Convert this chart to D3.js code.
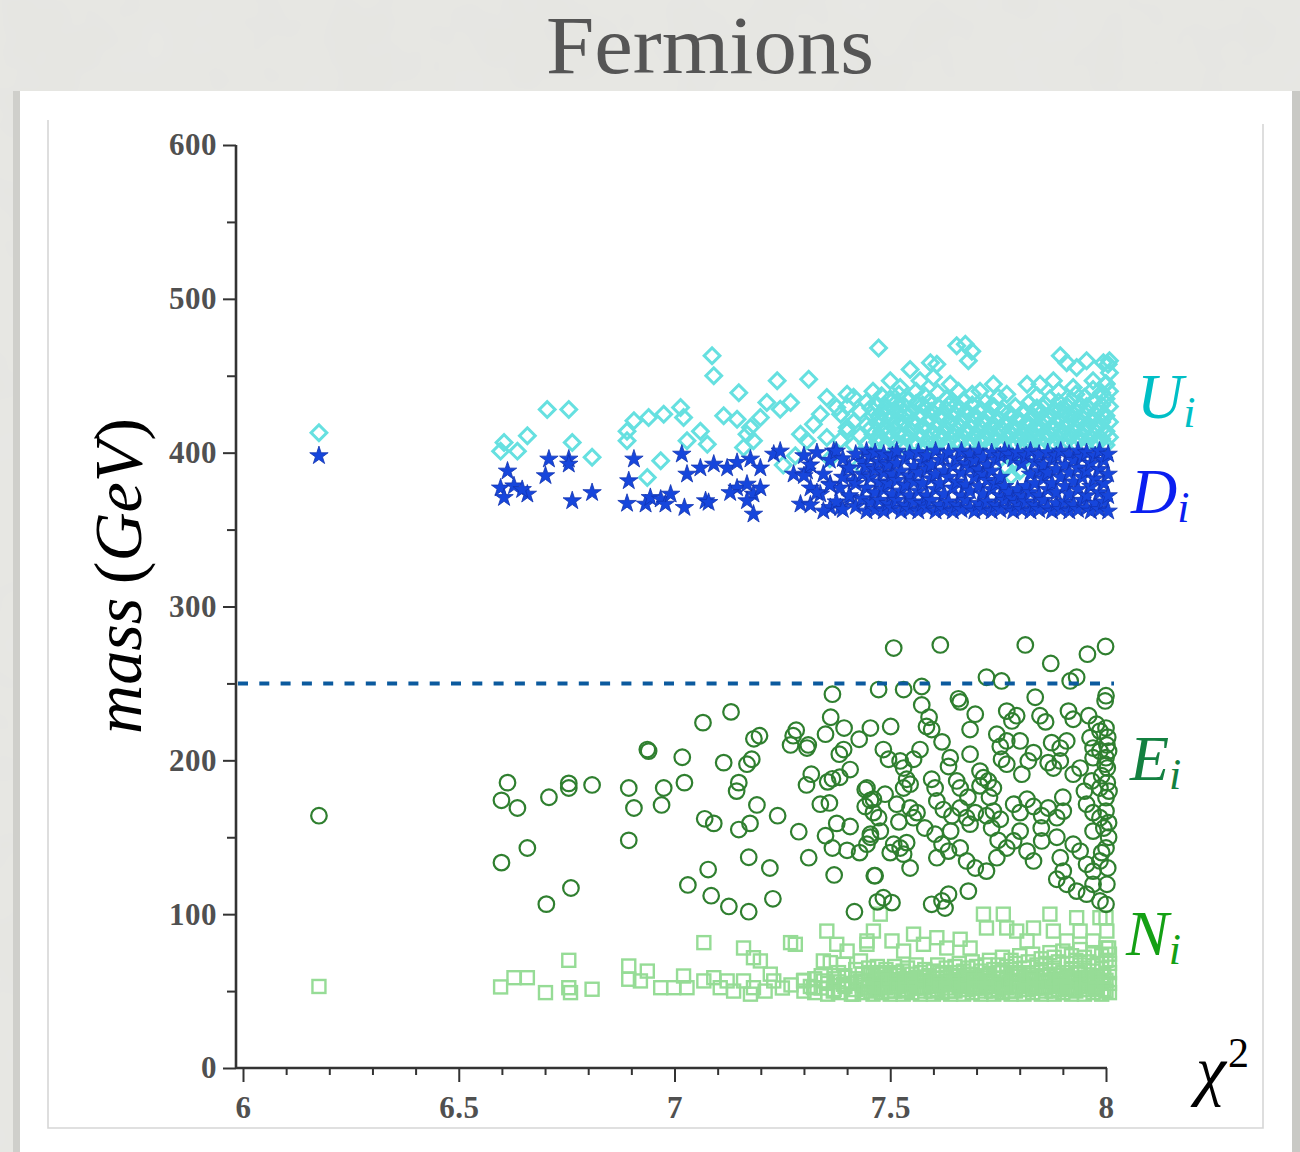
<!DOCTYPE html>
<html>
<head>
<meta charset="utf-8">
<script src="https://cdn.jsdelivr.net/npm/d3@7"></script>
<style>
  html, body { margin: 0; padding: 0; background: #e2e2de; }
  svg { display: block; }
</style>
</head>
<body>
<svg id="chart" width="1300" height="1152"></svg>
<script>
// ---------- axis definitions ----------
const xMajor = [6, 6.5, 7, 7.5, 8];
const yMajor = [0, 100, 200, 300, 400, 500, 600];
const thresholdMass = 250;

// ---------- U_i (diamonds): isolated points [chi2, mass] ----------
const uPoints = [
  [6.176,413],[6.605,406.6],[6.597,401],[6.659,411],[6.705,428],[6.755,428],[6.763,406.6],
  [6.809,397],[6.636,401],[6.89,414],[6.906,420.7],[6.89,407.7],[6.94,422.8],[6.975,425],
  [7.014,429.3],[7.021,422.8],[6.968,394.7],[6.937,383.8],[7.029,407.7],[7.06,414],[7.076,405.5],
  [7.087,463],[7.091,450],[7.149,439],[7.114,424],[7.145,421.8],[7.176,416.3],[7.199,422.8],
  [7.214,432.6],[7.245,428.3],[7.269,432.6],[7.238,446.7],[7.311,447.8],[7.168,412],[7.183,407.7],
  [7.16,403.3],[7.292,412],[7.322,418.5],[7.353,435.8],[7.376,429.3],[7.4,438],[7.338,425],
  [7.307,407.7],[7.353,409.8],[7.4,416.3],[7.473,468],[7.654,469.5],[7.674,470.5],[7.689,466],
  [7.681,459.7],[7.546,454],[7.593,458.5],[7.608,457.5],[7.894,463],[7.909,458.5],[7.932,455.3],
  [7.955,459.7],[7.994,458.5],[8.005,457.5],[8.008,459.7],[7.5,446.7],[7.523,442.4],[7.569,446.7],
  [7.6,449],[7.639,444.5],[7.658,440],[7.708,440],[7.739,444.5],[7.77,438],[7.817,444.5],
  [7.847,444.5],[7.878,446.7],[7.924,442.4],[7.97,446.7],[8.0,444.5],[7.252,392],[7.28,398],
  [7.36,396],[7.43,392]
];
// U_i dense band: [chi2, mass, mass, ...]
const uBand = [
  [7.385,408,425],[7.40,414,430],[7.415,405,420,436],[7.43,411,427],[7.445,406,418,433],
  [7.46,412,424,440],[7.47,407,419,431],[7.48,414,426,437],[7.49,405,417,430],[7.50,410,422,435],
  [7.51,406,416,428],[7.52,412,425,438],[7.53,405,419,431],[7.54,409,423,434],[7.55,414,427],
  [7.56,406,418,432,440],[7.57,411,424],[7.58,405,416,429,437],[7.59,409,421,433],[7.60,413,426],
  [7.61,406,418,430,439],[7.62,410,422],[7.63,405,415,428,435],[7.64,409,420,432],[7.65,413,425],
  [7.66,406,417,429],[7.67,410,421,434],[7.68,405,414,426],[7.69,408,419,431,438],[7.70,412,423],
  [7.71,406,416,428],[7.72,409,420,433],[7.73,405,413,425],[7.74,408,418,430],[7.75,411,422,436],
  [7.76,405,415,427],[7.77,390,409,419],[7.78,385,412,424],[7.79,393,406,416,430],[7.80,388,410,421],
  [7.81,395,405,414,427],[7.82,409,419,432],[7.83,406,413,424],[7.84,410,418,429,437],[7.85,405,415,426],
  [7.86,408,420,431],[7.87,412,423,435],[7.88,406,416,428],[7.89,409,421,433,440],[7.90,405,413,425],
  [7.91,408,418,430],[7.92,411,422,434],[7.93,406,416,427,438],[7.94,409,420,431],[7.95,405,414,425,436],
  [7.96,408,418,429],[7.97,412,422,433,441],[7.98,406,416,427],[7.99,409,420,431,439],
  [8.0,405,414,424,435,445],[8.008,410,420,430,440,452],
  [7.455,416,429],[7.475,410,423],[7.495,413,426],[7.515,420,433],[7.535,412,426],[7.555,407,420],
  [7.575,417,431],[7.595,405,427],[7.615,412,424],[7.635,420,431],[7.655,408,419],[7.675,414,427],
  [7.695,411,424],[7.715,410,421],[7.735,417,430],[7.755,406,416],[7.775,414,426],[7.795,410,422],
  [7.815,408,419],[7.835,416,428],[7.855,410,421],[7.875,406,417],[7.895,415,428],[7.915,413,425],
  [7.935,410,422],[7.955,418,430],[7.975,407,417],[7.995,413,425]
];

// ---------- D_i (stars) ----------
const dPoints = [
  [6.176,398],[6.613,388],[6.597,377],[6.628,378.4],[6.605,370.8],[6.659,373],[6.647,376],
  [6.709,395.8],[6.755,395.8],[6.755,392.5],[6.701,385],[6.763,368.7],[6.809,374],[6.906,395.8],
  [6.894,381.7],[6.89,367],[6.933,366.5],[6.944,370.8],[6.968,369.8],[6.979,366.5],[6.991,373],
  [7.017,399],[7.029,386],[7.023,364.3],[7.072,368.7],[7.079,367.6],[7.06,390],[7.091,392.5],
  [7.122,390],[7.145,393.6],[7.176,395.8],[7.199,390],[7.23,399],[7.245,401],[7.145,377],
  [7.168,379.5],[7.183,373],[7.199,377],[7.168,368.7],[7.183,360],[7.129,374],[7.276,386],
  [7.307,388],[7.292,366.5],[7.315,377],[7.338,373],[7.361,379.5],[7.384,377],[7.369,401],
  [7.4,390],[7.415,381.7],[7.361,364.3],[7.384,364.3],[7.407,370.8]
];
const dBand = [
  [7.30,385,398],[7.315,366,392],[7.33,374,400],[7.345,362,386],[7.36,379,395],[7.375,368,401],
  [7.39,363,384,396],[7.405,372,390],[7.42,365,380,399],[7.435,370,386,394],[7.445,362,377,391,401],
  [7.455,368,384,397],[7.465,363,374,389,400],[7.475,369,381,394],[7.485,362,376,387,399],
  [7.495,367,380,392],[7.505,364,373,386,398],[7.515,369,382,393,401],[7.525,362,375,388],
  [7.535,366,379,396],[7.545,363,372,385,399],[7.555,368,381,391],[7.565,362,375,387,400],
  [7.575,367,380,394],[7.585,364,372,389,398],[7.595,369,383,392],[7.605,362,376,386,401],
  [7.615,366,380,395],[7.625,363,373,388,397],[7.635,368,384,400],[7.645,362,377,391],
  [7.655,366,381,396],[7.665,363,372,387,401],[7.675,369,379,393],[7.685,364,375,390,399],
  [7.695,362,384,395],[7.705,367,378,389,401],[7.715,363,373,386,397],[7.725,368,382,392],
  [7.735,362,376,388,400],[7.745,366,380,395],[7.755,363,372,384,398],[7.765,369,378,401],
  [7.775,364,374,399],[7.785,362,370,396],[7.795,367,376,400],[7.805,363,372,393],[7.815,368,378,398],
  [7.825,362,374,386,401],[7.835,366,380,394],[7.845,363,372,388,399],[7.855,369,383,392],
  [7.865,364,376,387,400],[7.875,362,380,395],[7.885,367,374,389,398],[7.895,363,384,401],
  [7.905,368,378,392],[7.915,362,373,387,399],[7.925,366,381,395],[7.935,363,376,390,401],
  [7.945,369,384,397],[7.955,364,372,388,400],[7.965,362,378,393],[7.975,367,383,398],
  [7.985,363,374,389,401],[7.995,368,380,395],[8.005,362,372,386,399]
];

// ---------- E_i (circles) ----------
const ePoints = [
  [6.176,164],[6.613,185.5],[6.599,174],[6.636,169],[6.709,176],[6.755,182],[6.755,185],[6.809,184],
  [6.894,182],[6.906,169],[6.894,148],[6.937,207],[6.94,206],[7.018,202],[6.975,182],[6.97,171],
  [7.023,185.5],[7.066,224.5],[7.131,231.5],[7.114,198.5],[7.184,214],[7.197,216],[7.168,197.5],
  [7.179,200.7],[7.149,185.5],[7.144,180],[7.191,171],[7.239,164],[7.07,162],[7.091,159],[7.149,155],
  [7.175,159],[6.659,143],[6.599,133.5],[6.76,117],[6.703,106.5],[7.172,137],[7.221,130],[7.078,129],
  [7.031,119],[7.085,112],[7.126,105],[7.172,101.6],[7.228,110],[7.288,153.6],[7.311,136.7],
  [7.37,125.5],[7.417,101.6],[7.282,219.6],[7.269,210],[7.307,208],[7.31,210],[7.366,243],[7.362,228],
  [7.35,217],[7.393,221],[7.428,213.7],[7.392,207],[7.382,204],[7.407,194],[7.317,191],[7.306,184],
  [7.366,188],[7.355,186],[7.383,189],[7.338,171.5],[7.359,172.3],[7.376,159],[7.407,157],[7.35,151],
  [7.366,143],[7.4,141.5],[7.429,140],[7.442,181],[7.454,174],[7.454,150],[7.463,125],[7.47,108],
  [7.508,273],[7.616,275],[7.813,275],[7.872,263],[7.957,269],[7.999,274],[7.473,246],[7.531,246],
  [7.573,248],[7.573,236],[7.658,240],[7.662,238],[7.723,254],[7.758,251.6],[7.836,241],[7.917,251.6],
  [7.932,254],[8.0,242],[7.998,238.6],[7.454,221],[7.501,222],[7.584,222],[7.596,220],[7.685,220],
  [7.697,230],[7.77,232],[7.793,229],[7.782,225.6],[7.847,229],[7.913,232],[7.924,226.7],[7.978,223.5],
  [8.0,221],[8.004,215],[7.747,217],[7.77,212.6],[7.755,209],[7.801,212.6],[7.874,211.5],[7.894,208],
  [7.909,212.6],[7.963,214.7],[7.986,219],[8.002,210],[7.97,208],[7.484,207],[7.496,200.7],[7.569,207],
  [7.554,200.7],[7.523,199.6],[7.531,195],[7.639,201.7],[7.635,196],[7.685,204],[7.446,182],
  [7.461,174.7],[7.488,178],[7.538,187.7],[7.546,184.5],[7.531,182],[7.596,187.7],[7.604,182],
  [7.654,186.6],[7.662,182],[7.716,188.7],[7.727,186.6],[7.739,182],[7.708,183.4],[7.708,193],
  [7.805,191],[7.77,197.5],[7.758,200.7],[7.832,205],[7.82,199.6],[7.866,198.5],[7.878,195],
  [7.894,199.6],[7.924,191],[7.94,195],[7.986,206],[8.0,201.7],[8.006,206],[7.97,201.7],[7.998,197.5],
  [7.967,186.6],[7.986,182],[8.003,185.5],[8.007,180],[8.0,175.7],[7.442,170],[7.461,166],[7.473,162.7],
  [7.515,171.5],[7.546,169],[7.562,166],[7.554,162.7],[7.608,173.6],[7.623,168],[7.643,164],
  [7.662,169],[7.677,162.7],[7.697,166],[7.685,158.5],[7.723,164],[7.739,167],[7.755,161.7],
  [7.735,156],[7.786,171.5],[7.801,166],[7.817,174.7],[7.832,170],[7.851,164],[7.866,169],
  [7.886,162.7],[7.901,167],[7.955,171.5],[7.97,166],[7.986,162.7],[8.0,167],[8.006,159.5],
  [7.995,156],[7.97,154],[7.454,152],[7.446,145.5],[7.477,154],[7.508,145.5],[7.523,143],[7.538,146.5],
  [7.5,140],[7.531,139],[7.546,130],[7.465,125],[7.604,152],[7.62,145.5],[7.635,141],[7.608,136.7],
  [7.662,143],[7.677,134.6],[7.697,130],[7.723,128],[7.747,136.7],[7.77,143],[7.786,147.6],[7.801,154],
  [7.817,141],[7.832,134.6],[7.851,147.6],[7.886,150],[7.894,136.7],[7.901,128],[7.924,145.5],
  [7.94,141],[7.955,132.4],[7.97,128],[7.986,134.6],[8.0,143],[8.006,150],[8.004,130],[7.886,122.7],
  [7.909,119.4],[7.932,115],[7.955,113],[7.986,108.6],[8.0,106.4],[7.97,119.4],[8.002,119.4],
  [7.484,110.7],[7.504,107.5],[7.596,106.4],[7.62,108.6],[7.627,104],[7.635,113],[7.681,115],
  [7.275,216],[7.59,228],[7.62,212],[7.86,225],[7.96,229],[7.99,190],[8.003,195],[7.95,180],
  [7.73,176],[7.68,176],[7.9,176],[7.58,156],[7.64,154],[7.85,156],[7.99,140],[7.52,160],[7.75,148]
];

// ---------- N_i (squares) ----------
const nPoints = [
  [6.176,53],[6.597,52.7],[6.628,58.7],[6.659,58.7],[6.701,49],[6.755,70],[6.755,52.2],[6.759,49],
  [6.809,51.2],[6.894,66.3],[6.894,57.7],[6.937,63],[6.921,56.6],[6.968,52.2],[6.998,52.2],
  [7.029,52.2],[7.021,59.8],[7.068,81.5],[7.068,56.6],[7.091,58.7],[7.106,52.2],[7.122,56.6],
  [7.137,50],[7.16,56.6],[7.183,52.2],[7.176,48],[7.16,78],[7.183,71.7],[7.199,69.6],[7.23,56.6],
  [7.222,61],[7.269,81.5],[7.28,80.4],[7.299,56.6],[7.322,52.2],[7.345,56.6],[7.368,50],
  [7.392,54.4],[7.415,48],[7.431,56.6],[7.461,52.2],[7.353,89],[7.376,80.4],[7.4,76],[7.345,69.6],
  [7.361,68.5],[7.392,67.4],[7.446,82.6],[7.431,69.6],[7.446,80.4],[7.461,89],[7.477,100],
  [7.504,82.6],[7.531,76],[7.554,87],[7.577,80.4],[7.608,84.7],[7.631,78],[7.662,83.7],[7.685,78],
  [7.716,100],[7.723,91],[7.762,100],[7.77,91],[7.793,89],[7.817,82.6],[7.832,91],[7.87,100],
  [7.878,89],[7.909,82.6],[7.932,97.7],[7.94,89],[7.97,82.6],[7.986,97.7],[8.002,89],[8.006,78],
  [8.0,97.7],[7.25,52],[7.21,50],[7.27,54]
];
const nBand = [
  [7.30,50,57],[7.315,53],[7.325,49,58],[7.34,52,60],[7.355,48,55],[7.37,51,58],[7.38,49,56,62],
  [7.395,53,60],[7.41,48,55],[7.42,51,58,64],[7.435,49,54,61],[7.45,52,57,65],[7.46,48,55,60],
  [7.47,51,58,66],[7.48,49,54,62],[7.49,52,59,64],[7.50,48,55,61],[7.51,50,57,66],[7.52,53,60],
  [7.53,48,55,63],[7.54,51,58,65],[7.55,49,54,61],[7.56,52,59,67],[7.57,48,56,62],[7.58,50,57,64],
  [7.59,53,60],[7.60,48,55,63],[7.61,51,58,67],[7.62,49,54,61],[7.63,52,59,65],[7.64,48,56,62],
  [7.65,50,57,66],[7.66,53,60,68],[7.67,48,55,63],[7.68,51,58,65],[7.69,49,54,61,69],[7.70,52,59,66],
  [7.71,48,56,63],[7.72,50,57,67],[7.73,53,60,70],[7.74,48,55,64],[7.75,51,58,67],[7.76,49,54,62,72],
  [7.77,52,59,66],[7.78,48,56,64,70],[7.79,50,57,68],[7.80,53,61,73],[7.81,48,55,65],[7.82,51,58,69],
  [7.83,49,54,62,74],[7.84,52,59,67],[7.85,48,56,64,71],[7.86,50,57,68],[7.87,53,61,75],
  [7.88,48,55,65,72],[7.89,51,58,69],[7.90,49,54,62,76],[7.91,52,60,68],[7.92,48,56,64,73],
  [7.93,50,57,70],[7.94,53,61,67,77],[7.95,48,55,65,72],[7.96,51,58,69],[7.97,49,54,63,75],
  [7.98,52,60,68],[7.99,48,56,65,73],[8.0,50,57,70,78],[8.008,49,55,62,68,74],
  [7.455,50,62],[7.475,53,61],[7.495,50,57],[7.515,53,62],[7.535,50,58],[7.555,52,58],[7.575,52,59],
  [7.595,50,56],[7.615,54,62],[7.635,50,56],[7.655,54,62],[7.675,51,59],[7.695,52,57],[7.715,52,60],
  [7.735,50,56],[7.755,53,62],[7.775,50,56],[7.795,53,62],[7.815,51,59],[7.835,52,57],[7.855,52,60],
  [7.875,50,57],[7.895,53,60],[7.915,51,58],[7.935,53,62],[7.955,51,59],[7.975,52,58],[7.995,51,60]
];

// expand [chi2, m1, m2, ...] rows into [chi2, m] pairs
const expand = rows => rows.flatMap(([c, ...ms]) => ms.map(m => [c, m]));
const uAll = uPoints.concat(expand(uBand));
const dAll = dPoints.concat(expand(dBand));
const nAll = nPoints.concat(expand(nBand));

// ---------- drawing ----------
const svg = d3.select("#chart");
const W = 1300, H = 1152;

const defs = svg.append("defs");
const grain = defs.append("filter").attr("id", "grain").attr("x", 0).attr("y", 0).attr("width", 1).attr("height", 1);
grain.append("feTurbulence").attr("type", "fractalNoise").attr("baseFrequency", 0.012).attr("numOctaves", 3).attr("seed", 4).attr("result", "n");
grain.append("feColorMatrix").attr("in", "n").attr("type", "matrix")
  .attr("values", "0 0 0 0 0.86  0 0 0 0 0.86  0 0 0 0 0.84  0 0 0 0.35 0").attr("result", "c");
grain.append("feComposite").attr("in", "c").attr("in2", "SourceGraphic").attr("operator", "over");

// slide background
svg.append("rect").attr("width", W).attr("height", H).attr("fill", "#e4e4e0");
svg.append("rect").attr("width", W).attr("height", H).attr("fill", "#e6e6e2").attr("filter", "url(#grain)").attr("opacity", 0.9);

// title
svg.append("text")
  .attr("x", 710).attr("y", 73)
  .attr("text-anchor", "middle")
  .attr("font-family", "'Liberation Serif', 'Times New Roman', serif")
  .attr("font-size", 82)
  .attr("fill", "#555555")
  .attr("textLength", 328).attr("lengthAdjust", "spacingAndGlyphs")
  .text("Fermions");

// white card with soft edges
svg.append("rect").attr("x", 13).attr("y", 91).attr("width", 7).attr("height", H - 91).attr("fill", "#cfcfcb");
svg.append("rect").attr("x", 1292).attr("y", 91).attr("width", 8).attr("height", H - 91).attr("fill", "#c9c9c5");
svg.append("rect").attr("x", 20).attr("y", 91).attr("width", 1272).attr("height", H - 91).attr("fill", "#ffffff");

// inner figure frame
const frame = svg.append("g").attr("stroke", "#d6d6d6").attr("stroke-width", 1.6).attr("fill", "none");
frame.append("path").attr("d", "M48,120 V1128 H1263 V124");

// scales
const x = d3.scaleLinear().domain([6, 8]).range([243, 1106]);
const y = d3.scaleLinear().domain([0, 600]).range([1068, 145]);

const plot = svg.append("g");

// N_i squares
const sq = 13;
plot.append("g").selectAll("rect").data(nAll).join("rect")
  .attr("x", d => x(d[0]) - sq / 2).attr("y", d => y(d[1]) - sq / 2)
  .attr("width", sq).attr("height", sq)
  .attr("fill", "none").attr("stroke", "#96dc96").attr("stroke-width", 2.4);

// E_i circles
plot.append("g").selectAll("circle").data(ePoints).join("circle")
  .attr("cx", d => x(d[0])).attr("cy", d => y(d[1])).attr("r", 7.8)
  .attr("fill", "none").attr("stroke", "#2f7f2f").attr("stroke-width", 2.2);

// U_i diamonds
const diamond = d3.symbol().type(d3.symbolSquare).size(124);
plot.append("g").selectAll("path").data(uAll).join("path")
  .attr("d", diamond)
  .attr("transform", d => `translate(${x(d[0])},${y(d[1])}) rotate(45)`)
  .attr("fill", "none").attr("stroke", "#66e0e0").attr("stroke-width", 3);

// D_i stars
const star = d3.symbol().type(d3.symbolStar).size(105);
plot.append("g").selectAll("path").data(dAll).join("path")
  .attr("d", star)
  .attr("transform", d => `translate(${x(d[0])},${y(d[1])})`)
  .attr("fill", "#1646dc").attr("stroke", "#1234b0").attr("stroke-width", 0.8);

// threshold line
svg.append("line")
  .attr("x1", 238).attr("x2", x(8) + 8)
  .attr("y1", y(thresholdMass)).attr("y2", y(thresholdMass))
  .attr("stroke", "#0b5a9e").attr("stroke-width", 4)
  .attr("stroke-dasharray", "10 11.3");

// axes
const axisColor = "#333333";
const tickFont = "'Liberation Serif', 'Times New Roman', serif";

const yAxis = svg.append("g").attr("transform", "translate(236,0)")
  .call(d3.axisLeft(y).tickValues(yMajor).tickSize(13).tickSizeOuter(0).tickPadding(6).tickFormat(d3.format("d")));
svg.append("g").attr("transform", "translate(236,0)")
  .call(d3.axisLeft(y).tickValues(y.ticks(12).filter(v => !yMajor.includes(v))).tickSize(9).tickFormat(""))
  .call(g => g.select(".domain").remove());

const xAxis = svg.append("g").attr("transform", "translate(0,1068)")
  .call(d3.axisBottom(x).tickValues(xMajor).tickSize(14).tickSizeOuter(0).tickPadding(14).tickFormat(d3.format("")));
svg.append("g").attr("transform", "translate(0,1068)")
  .call(d3.axisBottom(x).tickValues(x.ticks(20).filter(v => !xMajor.some(m => Math.abs(m - v) < 1e-9))).tickSize(7).tickFormat(""))
  .call(g => g.select(".domain").remove());

svg.selectAll(".domain").attr("stroke", axisColor).attr("stroke-width", 2.6);
svg.selectAll(".tick line").attr("stroke", axisColor).attr("stroke-width", 2);
svg.selectAll(".tick text")
  .attr("font-family", tickFont).attr("font-size", 31).attr("font-weight", "bold")
  .attr("fill", "#505050").attr("letter-spacing", 0.5);
// x axis line runs from the y axis to just past the last tick
xAxis.select(".domain").attr("d", `M236,0H${x(8) + 1}`);
yAxis.select(".domain").attr("d", `M0,${y(600)}V${1068 + 1}`);

// series labels
const mathFont = "'Liberation Serif', 'Times New Roman', serif";
const labels = [
  { name: "U", x: 1137, y: 418, color: "#00bfc6" },
  { name: "D", x: 1131, y: 513, color: "#0a1ef0" },
  { name: "E", x: 1130, y: 780, color: "#138040" },
  { name: "N", x: 1126, y: 955, color: "#14a014" }
];
labels.forEach(l => {
  const t = svg.append("text").attr("x", l.x).attr("y", l.y)
    .attr("font-family", mathFont).attr("font-style", "italic").attr("font-size", 64).attr("fill", l.color);
  t.append("tspan").text(l.name);
  t.append("tspan").attr("font-size", 44).attr("dy", 9).text("i");
});

// y axis title: mass (GeV)
const yt = svg.append("text")
  .attr("transform", "translate(141,576) rotate(-90)")
  .attr("text-anchor", "middle")
  .attr("font-family", mathFont).attr("font-size", 68).attr("fill", "#000");
yt.append("tspan").attr("font-style", "italic").text("mass");
yt.append("tspan").text("\u2009(");
yt.append("tspan").attr("font-style", "italic").text("GeV");
yt.append("tspan").text(")");

// x axis title: chi^2
const xt = svg.append("text").attr("x", 1196).attr("y", 1093)
  .attr("font-family", mathFont).attr("font-size", 68).attr("fill", "#000");
xt.append("tspan").attr("font-style", "italic").text("\u03c7");
xt.append("tspan").attr("font-size", 42).attr("dy", -26).attr("dx", 2).text("2");
</script>
</body>
</html>
